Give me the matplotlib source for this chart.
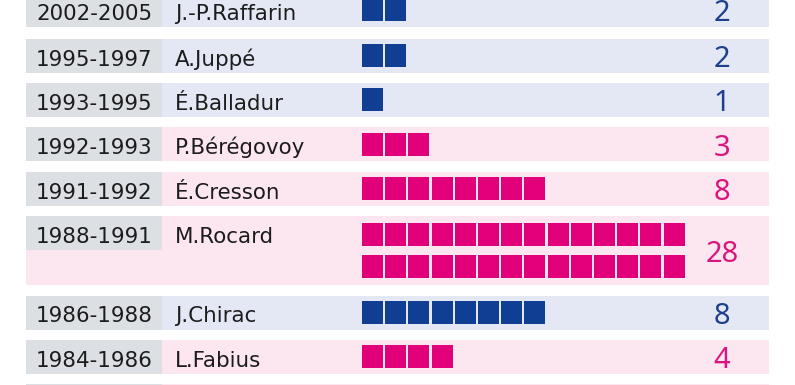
import math
import matplotlib.pyplot as plt
from matplotlib.patches import Rectangle

# one row per prime minister, newest first
periods = ['2002-2005', '1995-1997', '1993-1995', '1992-1993', '1991-1992',
           '1988-1991', '1986-1988', '1984-1986', '1981-1984']
names = ['J.-P.Raffarin', 'A.Juppé', 'É.Balladur', 'P.Bérégovoy', 'É.Cresson',
         'M.Rocard', 'J.Chirac', 'L.Fabius', 'P.Mauroy']
values = [2, 2, 1, 3, 8, 28, 8, 4, None]
camps = ['right', 'right', 'right', 'left', 'left', 'left', 'right', 'left', 'left']

sq_color = {'right': '#103e92', 'left': '#e1007a'}
bg_color = {'right': '#e3e8f4', 'left': '#fce6f0'}
num_color = {'right': '#1d3f8c', 'left': '#d8167d'}
grey = '#dcdfe4'
text_color = '#1c1c1c'

W, H = 795, 385
left, right = 26, 769
year_w = 136
row_h = 34
gap = 10.4
per_line = 14
sq_x0, sq_pitch, sq_w = 362, 23.2, 21
sq_h, line_pitch = 23, 31.7

fig = plt.figure(figsize=(W / 100, H / 100), dpi=100)
ax = fig.add_axes([0, 0, 1, 1])
ax.set_xlim(0, W)
ax.set_ylim(H, 0)
ax.axis('off')

top = 38.5 - row_h - gap - 1.5
for period, name, v, camp in zip(periods, names, values, camps):
    n_lines = max(1, math.ceil((v or 0) / per_line))
    h = row_h + 35 * (n_lines - 1)
    ax.add_patch(Rectangle((left, top), right - left, h, color=bg_color[camp], lw=0))
    ax.add_patch(Rectangle((left, top), year_w, row_h, color=grey, lw=0))

    label_y = top + row_h / 2 + 10
    if label_y < H + 5:
        ax.text(left + year_w / 2, label_y, period, ha='center', va='baseline',
                fontsize=15.4, color=text_color, family='DejaVu Sans')
        ax.text(175, label_y, name, ha='left', va='baseline',
                fontsize=15.4, color=text_color, family='DejaVu Sans')

    if v is not None:
        block = sq_h + line_pitch * (n_lines - 1)
        y0 = top + (h - block) / 2
        for i in range(v):
            line, col = divmod(i, per_line)
            ax.add_patch(Rectangle((sq_x0 + col * sq_pitch, y0 + line * line_pitch),
                                   sq_w, sq_h, color=sq_color[camp], lw=0))
        ax.text(722, top + h / 2 + 11.5, str(v), ha='center', va='baseline',
                fontsize=21, color=num_color[camp], family='Noto Sans')

    top += h + gap
    if top < 40:
        top = 38.5

fig.savefig('out.png', dpi=100)
